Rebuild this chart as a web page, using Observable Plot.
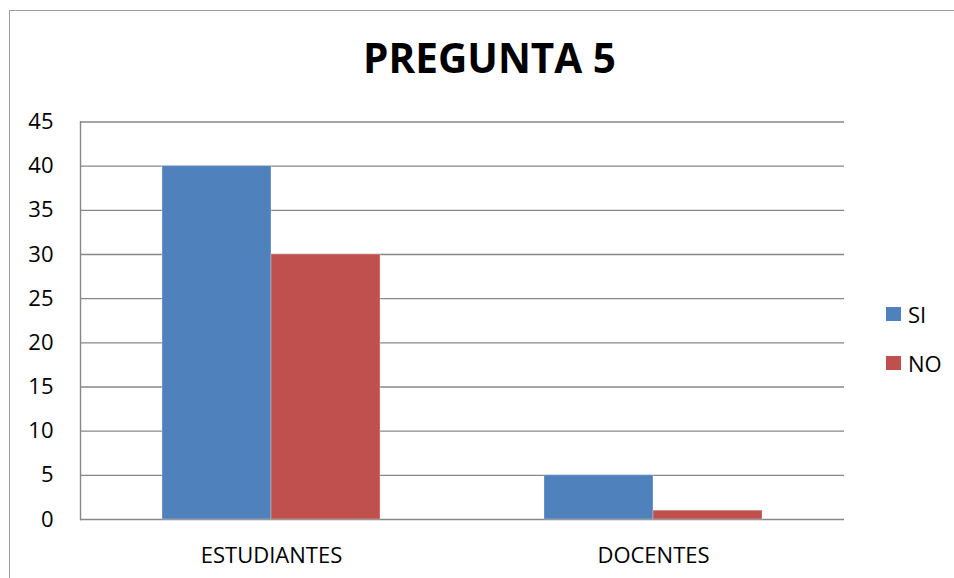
<!DOCTYPE html>
<html>
<head>
<meta charset="utf-8">
<script src="https://cdn.jsdelivr.net/npm/d3@7"></script>
<script src="https://cdn.jsdelivr.net/npm/@observablehq/plot@0.6"></script>
<style>
  html, body { margin: 0; padding: 0; background: #fff; }
  #wrap { position: relative; width: 954px; height: 578px; overflow: hidden; font-family: "Open Sans", sans-serif; }
  #border { position: absolute; left: 9px; top: 10px; width: 1000px; height: 700px; border: 1.5px solid #9d9d9d; box-sizing: border-box; }
  #chart { position: absolute; left: 0; top: 0; }
  #title { position: absolute; left: 0; width: 979px; top: 34px; margin: 0; text-align: center; font-weight: 700; font-size: 40.5px; color: #000; line-height: 1.2; }
  #legend { position: absolute; left: 886px; top: 299px; }
  .item { position: absolute; left: 0; display: flex; align-items: center; font-size: 22px; color: #000; white-space: nowrap; }
  .sw { width: 15px; height: 14px; margin-right: 7px; }
</style>
</head>
<body>
<div id="wrap">
  <div id="border"></div>
  <div id="chart"></div>
  <div id="title"></div>
  <div id="legend"></div>
</div>
<script>
const titleText = "PREGUNTA 5";
const categories = ["ESTUDIANTES", "DOCENTES"];
const series = ["SI", "NO"];
const siValues = [40, 5];
const noValues = [30, 1];
const seriesColors = ["#4F81BD", "#C0504D"];
const yTicks = [0, 5, 10, 15, 20, 25, 30, 35, 40, 45];

const rows = [];
categories.forEach((c, i) => {
  rows.push({category: c, serie: series[0], value: siValues[i]});
  rows.push({category: c, serie: series[1], value: noValues[i]});
});

const gridColor = "#878787";

const chart = Plot.plot({
  width: 954,
  height: 578,
  marginLeft: 79,
  marginRight: 110,
  marginTop: 121.5,
  marginBottom: 59,
  style: {fontFamily: "'Open Sans', sans-serif", color: "#000", background: "transparent"},
  fx: {domain: categories, padding: 0, label: null},
  x: {domain: series, paddingInner: 0, paddingOuter: 0.752, axis: null},
  y: {domain: [0, 45], label: null},
  color: {domain: series, range: seriesColors},
  marks: [
    Plot.gridY(yTicks, {stroke: gridColor, strokeOpacity: 1, strokeWidth: 1.4}),
    Plot.frame({anchor: "left", facetAnchor: "left", stroke: gridColor, strokeWidth: 1.4}),
    Plot.barY(rows, {fx: "category", x: "serie", y: "value", fill: "serie", stroke: "#fff", strokeOpacity: 0.3, strokeWidth: 1}),
    Plot.axisY({ticks: yTicks, tickSize: 0, tickPadding: 27, fontSize: 22, label: null}),
    Plot.axisFx({anchor: "bottom", tickSize: 0, tickPadding: 28, fontSize: 22, label: null})
  ]
});
document.getElementById("chart").appendChild(chart);
document.getElementById("title").textContent = titleText;

const legend = document.getElementById("legend");
series.forEach((s, i) => {
  const item = document.createElement("div");
  item.className = "item";
  item.style.top = (i * 49) + "px";
  const sw = document.createElement("div");
  sw.className = "sw";
  sw.style.background = seriesColors[i];
  const lab = document.createElement("span");
  lab.textContent = s;
  item.appendChild(sw);
  item.appendChild(lab);
  legend.appendChild(item);
});
</script>
</body>
</html>
